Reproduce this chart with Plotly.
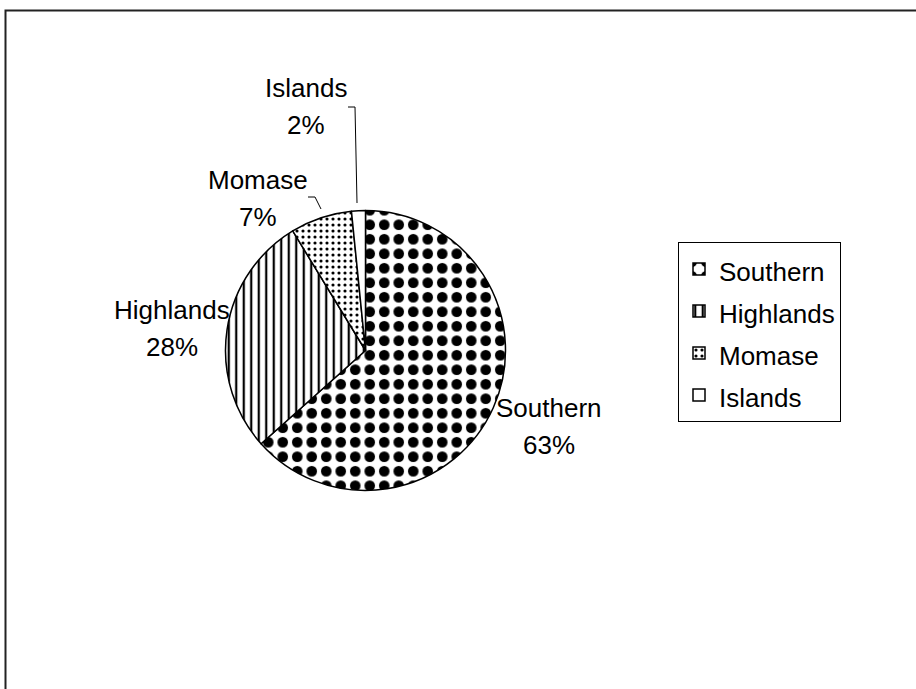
import plotly.graph_objects as go

# --- Data ---
regions = ["Southern", "Highlands", "Momase", "Islands"]
shares = [63.4, 27.9, 7.1, 1.6]

# pattern per slice
pattern_shapes = [".", "|", ".", ""]
pattern_sizes = [14.5, 7.5, 6, 8]
pattern_solidity = [0.42, 0.3, 0.22, 0.1]

W, H = 916, 689
FONT = "Liberation Sans, Arial, sans-serif"


def px(x):
    return x / W


def py(y):
    return 1 - y / H


fig = go.Figure()

# legend text gets its own font size; legend font size drives entry spacing
legend_labels = [f'<span style="font-size:26px">{r}</span>' for r in regions]

fig.add_trace(go.Pie(
    labels=legend_labels,
    values=shares,
    sort=False,
    direction="clockwise",
    rotation=0,
    textinfo="none",
    hoverinfo="label+percent",
    marker=dict(
        colors=["white"] * len(regions),
        line=dict(color="black", width=1.5),
        pattern=dict(
            shape=pattern_shapes,
            size=pattern_sizes,
            solidity=pattern_solidity,
            fgcolor="black",
            bgcolor="white",
            fgopacity=1,
            fillmode="overlay",
        ),
    ),
    domain=dict(x=[px(225.5), px(505.5)], y=[py(490.5), py(210.5)]),
))

# --- Slice labels (name + percent) ---
total = sum(shares)
label_pos = {
    "Southern": (549, 408),
    "Highlands": (172, 310),
    "Momase": (258, 180),
    "Islands": (306, 88),
}
for name, val in zip(regions, shares):
    cx, cy = label_pos[name]
    fig.add_annotation(x=px(cx), y=py(cy), xref="paper", yref="paper",
                       xanchor="center", yanchor="middle",
                       text=name, showarrow=False,
                       font=dict(family=FONT, size=26, color="black"))
    fig.add_annotation(x=px(cx), y=py(cy + 37), xref="paper", yref="paper",
                       xanchor="center", yanchor="middle",
                       text=f"{round(val / total * 100)}%", showarrow=False,
                       font=dict(family=FONT, size=26, color="black"))

# leader lines for the small slices
leaders = [
    [(348, 107), (355, 107), (357, 203)],
    [(308, 197), (315, 197), (321, 209)],
]
for pts in leaders:
    path = "M " + " L ".join(f"{px(x)},{py(y)}" for x, y in pts)
    fig.add_shape(type="path", path=path, xref="paper", yref="paper",
                  line=dict(color="black", width=1))

# outer chart border (runs off the right and bottom)
fig.add_shape(type="rect", xref="paper", yref="paper",
              x0=px(5.5), x1=1.02, y0=-0.02, y1=py(10.5),
              line=dict(color="#222", width=2), layer="below")

fig.update_layout(
    width=W,
    height=H,
    margin=dict(l=0, r=0, t=0, b=0),
    paper_bgcolor="white",
    plot_bgcolor="white",
    font=dict(family=FONT, size=26, color="black"),
    showlegend=True,
    legend=dict(
        x=px(678), y=py(242), xanchor="left", yanchor="top",
        bgcolor="white", bordercolor="black", borderwidth=1,
        font=dict(family=FONT, size=30, color="black"),
        itemwidth=30,
    ),
)

fig.write_html(
    "out.html",
    config={"displayModeBar": False},
    post_script="document.body.style.margin='0px';document.body.style.overflow='hidden';",
)
